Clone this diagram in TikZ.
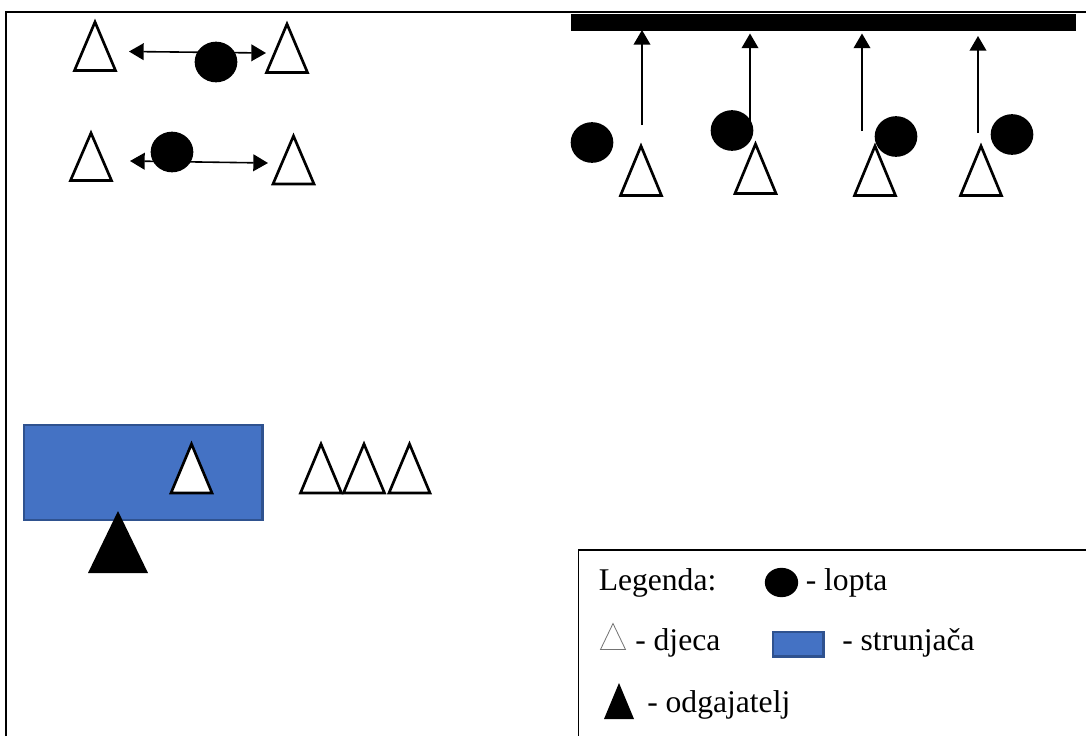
\documentclass[tikz,border=0pt]{standalone}
\usepackage{fontspec}
\setmainfont{Liberation Serif}
\usetikzlibrary{arrows.meta,shapes.geometric}
\definecolor{matblue}{HTML}{4472C4}
\definecolor{matedge}{HTML}{2F528F}
\tikzset{
  frameline/.style={draw=black,line width=2.2pt},
  child/.style={draw=black,fill=white,line width=2pt,miter limit=10},
  teacher/.style={fill=black},
  ball/.style={ellipse,fill=black,inner sep=0pt,minimum width=32pt,minimum height=30.5pt},
  mat/.style={fill=matblue,draw=matedge,line width=1.6pt},
  throw/.style={line width=1.2pt,-{Triangle[length=11pt,width=12.5pt]}},
  pass/.style={line width=1.2pt,{Triangle[length=11pt,width=12.5pt]}-{Triangle[length=11pt,width=12.5pt]}},
  legendtext/.style={anchor=base west,inner sep=0pt,font=\fontsize{23.7pt}{28pt}\selectfont,text=black}
}
% apex x, apex y, half width, base y (centre line of the outline)
\newcommand{\kid}[4]{\path[child] (#1,#2) -- ({#1-#3},#4) -- ({#1+#3},#4) -- cycle;}
\begin{document}
\begin{tikzpicture}[x=0.75pt,y=-0.75pt]
\useasboundingbox (0,0) rectangle (1086,736);
\fill[white] (0,0) rectangle (1086,736);
% frame
\coordinate (fbl) at (6,736);
\coordinate (ftl) at (6,12);
\coordinate (ftr) at (1086,12);
\draw[frameline] (fbl) -- (ftl) -- (ftr);
% wall
\fill[black] (571,14) rectangle (1076,31);
% top-left pairs: arrows
\coordinate (a1l) at (129,51.5);
\coordinate (a1r) at (266,53);
\coordinate (a2l) at (130,161);
\coordinate (a2r) at (268,163);
\draw[pass] (a1l) -- (a1r);
\draw[pass] (a2l) -- (a2r);
\kid{95}{22}{20.5}{70.5}
\kid{287}{24}{20.5}{72.5}
\kid{91}{133}{20.5}{180.5}
\kid{293.5}{136}{20.5}{184}
\node[ball] (b1) at (216,62) {};
\node[ball] (b2) at (172,152) {};
% top-right: arrows to the wall
\coordinate (t1) at (642,125); \coordinate (h1) at (642,30);
\coordinate (t2) at (750,125); \coordinate (h2) at (750,33.5);
\coordinate (t3) at (862,131); \coordinate (h3) at (862,33.5);
\coordinate (t4) at (978,133); \coordinate (h4) at (978,36);
\draw[throw] (t1) -- (h1);
\draw[throw] (t2) -- (h2);
\draw[throw] (t3) -- (h3);
\draw[throw] (t4) -- (h4);
\kid{641}{146}{20.5}{195.5}
\kid{755.5}{144}{20.5}{193.5}
\kid{875}{146}{20.5}{195.5}
\kid{981}{146}{20.5}{195.5}
\node[ball] (b3) at (592,142.5) {};
\node[ball] (b4) at (732,130.5) {};
\node[ball] (b5) at (896,136.5) {};
\node[ball] (b6) at (1012,134.5) {};
% mat and queue
\path[mat] (24,425) rectangle (262.5,520);
\kid{191.5}{444}{20.5}{493}
\kid{321}{444}{20.5}{493}
\kid{364}{444}{20.5}{493}
\kid{409.5}{444}{20.5}{493}
\path[teacher] (118,511) -- (88,573) -- (148,573) -- cycle;
% legend
\draw[black,line width=1.1pt] (1086,550) -- (578.5,550) -- (578.5,736);
\node[legendtext] (lg) at (598.5,590) {Legenda:};
\node[ball,minimum width=25pt,minimum height=22pt] (lb) at (781.5,582.5) {};
\node[legendtext] (ll) at (805.5,590) {- lopta};
\path[draw=black!55,fill=white,line width=0.6pt] (613,623.5) -- (600.5,649.5) -- (625.5,649.5) -- cycle;
\node[legendtext] (ld) at (635,650) {- djeca};
\path[mat] (772.7,631.7) rectangle (823.5,656.5);
\node[legendtext] (ls) at (842,650) {- strunjača};
\path[teacher] (619,683) -- (604,719) -- (634,719) -- cycle;
\node[legendtext] (lo) at (647,712) {- odgajatelj};
\end{tikzpicture}
\end{document}
